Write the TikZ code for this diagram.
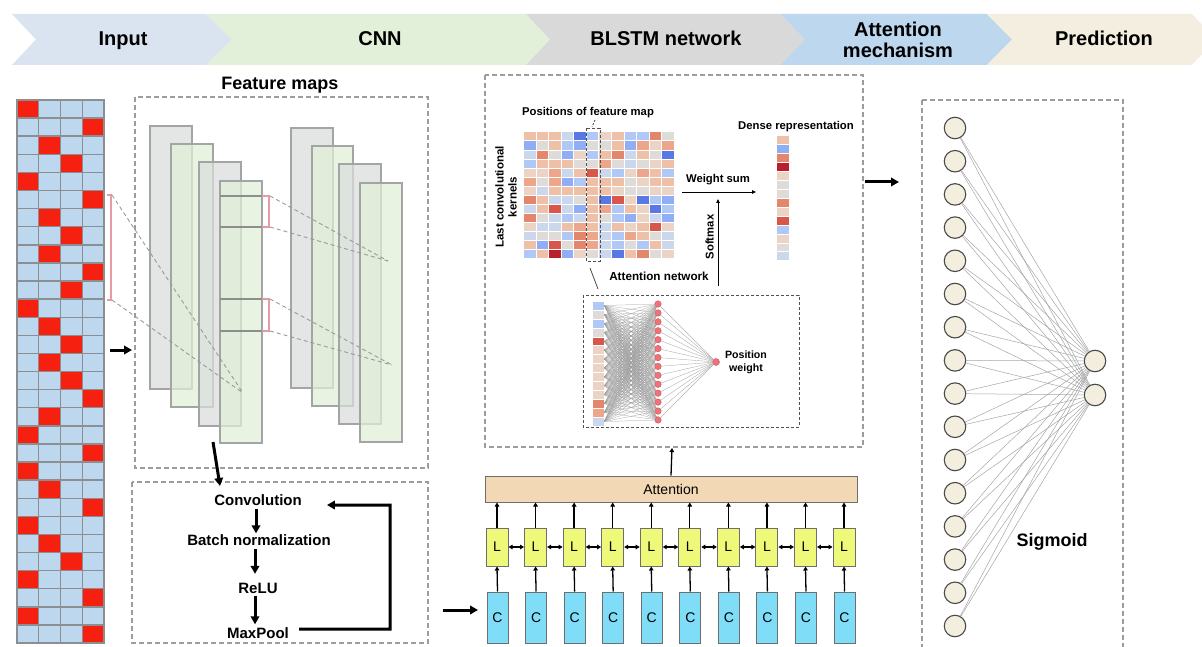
\documentclass[tikz,border=0pt]{standalone}
\usepackage{fontspec}
\setmainfont{Liberation Sans}
\usetikzlibrary{arrows.meta}

\newcommand\pxfont[2]{\fontsize{#1}{#2}\selectfont}

% stage banner
\definecolor{hInput}{HTML}{DAE3F0}
\definecolor{hCNN}{HTML}{E2F0D9}
\definecolor{hBLSTM}{HTML}{D9D9D9}
\definecolor{hAtt}{HTML}{BDD7EE}
\definecolor{hPred}{HTML}{F3EEDF}
% input matrix
\definecolor{cellblue}{HTML}{BDD7EE}
\definecolor{cellred}{HTML}{F52010}
\definecolor{gridline}{HTML}{8C8F91}
% frames and guides
\definecolor{boxdash}{HTML}{9C9C9C}
\definecolor{guidec}{HTML}{9A9A9A}
\definecolor{innerdash}{HTML}{505050}
% feature maps
\definecolor{fmgray}{HTML}{DADDDC}
\definecolor{fmgreen}{HTML}{E0F0D6}
\definecolor{fmedge}{HTML}{A3A5A4}
\definecolor{fmrulec}{HTML}{8E8E8E}
\definecolor{bracketpink}{HTML}{E89AA2}
% BLSTM units
\definecolor{attfill}{HTML}{F2D8B4}
\definecolor{lfill}{HTML}{EEF97A}
\definecolor{cfill}{HTML}{80DDF8}
\definecolor{unitedge}{HTML}{6E6E6E}
% dense layer
\definecolor{neuron}{HTML}{F3EEDD}
\definecolor{neuronedge}{HTML}{4A4A4A}
\definecolor{dotred}{HTML}{EE7279}
\definecolor{dotedge}{HTML}{D0505A}
% coolwarm scale of the kernel heat map
\definecolor{hB3}{HTML}{5A78E4}
\definecolor{hB2}{HTML}{8FAEF5}
\definecolor{hB1}{HTML}{AFC8F5}
\definecolor{hB0}{HTML}{CAD7EC}
\definecolor{hN}{HTML}{DEDBD8}
\definecolor{hT0}{HTML}{EBD3C6}
\definecolor{hT1}{HTML}{EFC0A8}
\definecolor{hT2}{HTML}{EDA68A}
\definecolor{hR1}{HTML}{E4866C}
\definecolor{hR2}{HTML}{D8564A}
\definecolor{hR3}{HTML}{BA1F2E}

\tikzset{
  hdrtext/.style={font=\bfseries\pxfont{20}{21}, align=center, inner sep=0pt},
  dashframe/.style={draw=boxdash, line width=1.3pt, dash pattern=on 5pt off 3pt},
  innerframe/.style={draw=innerdash, line width=0.9pt, dash pattern=on 3pt off 2pt},
  cell/.style={draw=gridline, line width=1.4pt},
  fmsheet/.style={draw=fmedge, line width=1.6pt, fill opacity=0.72},
  fmrule/.style={draw=fmrulec, line width=1.4pt},
  pinkbracket/.style={draw=bracketpink, line width=1.6pt},
  guide/.style={draw=guidec, line width=0.9pt, dash pattern=on 4pt off 3pt},
  bigarrow/.style={line width=3pt, -{Triangle[length=8pt,width=8.5pt]}},
  steplabel/.style={font=\bfseries\pxfont{15}{17}, inner sep=0pt, anchor=base},
  smalllabel/.style={font=\bfseries\pxfont{11.3}{13}, inner sep=0pt},
  thinarrow/.style={line width=0.8pt, -{Triangle[length=4pt,width=3.5pt]}},
  unitarrow/.style={line width=1.3pt, -{Triangle[length=4pt,width=4.5pt]}},
  bothunit/.style={line width=1.3pt, {Triangle[length=4pt,width=4.5pt]}-{Triangle[length=4pt,width=4.5pt]}},
  lunit/.style={draw=unitedge, fill=lfill, line width=1pt, minimum width=22pt, minimum height=38pt, inner sep=0pt, font=\pxfont{14}{16}},
  cunit/.style={draw=unitedge, fill=cfill, line width=1pt, minimum width=21pt, minimum height=51pt, inner sep=0pt, font=\pxfont{14}{16}},
  neuronc/.style={circle, draw=neuronedge, fill=neuron, line width=1.1pt, minimum size=21.5pt, inner sep=0pt},
  attdot/.style={circle, draw=dotedge, fill=dotred, line width=0.4pt, minimum size=6.5pt, inner sep=0pt},
  meshline/.style={draw=black!38, line width=0.25pt},
  fanline/.style={draw=black!30, line width=0.4pt},
  predline/.style={draw=black!35, line width=0.5pt},
  vcell/.style={rectangle, draw=white, line width=0.4pt, inner sep=0pt},
}

\begin{document}
\begin{tikzpicture}[x=1pt, y=-1pt]
\useasboundingbox (0,0) rectangle (1202,647);
\fill[white] (0,0) rectangle (1202,647);

%---------------- stage banner ----------------
\fill[hInput] (12,14) -- (206,14) -- (232,39.5) -- (206,65) -- (12,65) -- (36,39.5) -- cycle;
\fill[hCNN]   (206,14) -- (526,14) -- (550,39.5) -- (526,65) -- (206,65) -- (232,39.5) -- cycle;
\fill[hBLSTM] (526,14) -- (780,14) -- (805,39.5) -- (780,65) -- (526,65) -- (550,39.5) -- cycle;
\fill[hAtt]   (780,14) -- (987,14) -- (1012,39.5) -- (987,65) -- (780,65) -- (805,39.5) -- cycle;
\fill[hPred]  (987,14) -- (1192,14) -- (1216,39.5) -- (1192,65) -- (987,65) -- (1012,39.5) -- cycle;
\node[hdrtext, anchor=base] (tIn)   at (123,46) {Input};
\node[hdrtext, anchor=base] (tCNN)  at (380,46) {CNN};
\node[hdrtext, anchor=base] (tBL)   at (666,46) {BLSTM network};
\node[hdrtext] (tAtt)  at (898,39.5) {Attention\\mechanism};
\node[hdrtext, anchor=base] (tPred) at (1104,46) {Prediction};

%---------------- input matrix ----------------
\foreach \redcol [count=\r] in {1,4,2,3,1,4,2,3,2,4,3,1,2,3,2,3,4,2,1,4,1,2,4,1,2,3,1,4,1,4}{
  \foreach \k in {1,...,4}{
    \ifnum\k=\redcol\def\cellc{cellred}\else\def\cellc{cellblue}\fi
    \filldraw[cell, fill=\cellc] ({17+(\k-1)*21.75},{100+(\r-1)*18.1}) rectangle ++(21.75,18.1);
  }
}
\draw[pinkbracket] (107,195) -- (111,195) -- (111,300) -- (107,300);
\coordinate (gbT) at (112,195);
\coordinate (gbB) at (112,300);
\coordinate (gridOut) at (110,350);
\coordinate (fmIn) at (132,350);
\draw[bigarrow] (gridOut) -- (fmIn);

%---------------- feature maps ----------------
\node[font=\bfseries\pxfont{18}{20}, inner sep=0pt, anchor=base] (fmTitle) at (280,90) {Feature maps};
\draw[dashframe] (135,97) rectangle (428,468);

\filldraw[fmsheet, fill=fmgray]  (150,126) rectangle (192,389);
\filldraw[fmsheet, fill=fmgreen] (171,144) rectangle (213,407);
\filldraw[fmsheet, fill=fmgray]  (199,162) rectangle (241,426);
\filldraw[fmsheet, fill=fmgreen] (220,181) rectangle (262,443);
\filldraw[fmsheet, fill=fmgray]  (291,128) rectangle (333,388);
\filldraw[fmsheet, fill=fmgreen] (312,146) rectangle (353,406);
\filldraw[fmsheet, fill=fmgray]  (339,164) rectangle (381,424);
\filldraw[fmsheet, fill=fmgreen] (360,183) rectangle (402,442);

\draw[fmrule] (220,196) -- (262,196);
\draw[fmrule] (220,227) -- (262,227);
\draw[fmrule] (220,299) -- (262,299);
\draw[fmrule] (220,331) -- (262,331);
\draw[pinkbracket] (262,196) -- (269,196) -- (269,227) -- (262,227);
\draw[pinkbracket] (262,299) -- (269,299) -- (269,331) -- (262,331);

\coordinate (fmFocus) at (243,393);
\coordinate (wAT) at (270,196);
\coordinate (wAB) at (270,227);
\coordinate (wBT) at (270,299);
\coordinate (wBB) at (270,331);
\coordinate (pA) at (388,261);
\coordinate (pB) at (392,365);
\draw[guide] (gbT) -- (fmFocus);
\draw[guide] (gbB) -- (fmFocus);
\draw[guide] (wAT) -- (pA);
\draw[guide] (wAB) -- (pA);
\draw[guide] (wBT) -- (pB);
\draw[guide] (wBB) -- (pB);

%---------------- convolution block ----------------
\draw[dashframe] (132,482) rectangle (428,643);
\node[steplabel] (conv) at (258,505.4) {Convolution};
\node[steplabel] (bn)   at (259,545.4) {Batch normalization};
\node[steplabel] (relu) at (258,593.4) {ReLU};
\node[steplabel] (mp)   at (258,638.4) {MaxPool};
\coordinate (fmOut) at (213,442);
\coordinate (convIn) at (220,486);
\draw[bigarrow] (fmOut) -- (convIn);
\draw[bigarrow] ([xshift=-2pt,yshift=-3pt]conv.south) -- ([xshift=-3pt,yshift=1pt]bn.north);
\draw[bigarrow] ([xshift=-4pt,yshift=-3pt]bn.south) -- ([xshift=-3pt,yshift=9pt]relu.north);
\draw[bigarrow] ([xshift=-3pt,yshift=-2pt]relu.south) -- ([xshift=-3pt,yshift=3pt]mp.north);
\coordinate (loopR) at (390,505);
\draw[bigarrow] ([xshift=10pt,yshift=4pt]mp.east) -| (loopR) -- ([xshift=25pt,yshift=-5pt]conv.east);

\coordinate (cnnOut) at (443,610);
\coordinate (seqIn) at (478,610);
\draw[bigarrow] (cnnOut) -- (seqIn);

%---------------- BLSTM ----------------
\node[draw=unitedge, fill=attfill, line width=1pt, minimum width=372pt, minimum height=26pt, inner sep=0pt] (att) at (671,489) {};
\node[font=\pxfont{14}{16}, inner sep=0pt, anchor=base] (attText) at (671,494) {Attention};
\foreach \i in {1,...,10}{
  \node[lunit] (L\i) at ({497+38.56*(\i-1)},547) {L};
  \node[cunit] (C\i) at ({497.5+38.56*(\i-1)},617.5) {C};
  \draw[unitarrow] (C\i.north) -- (L\i.south);
  \draw[unitarrow] (L\i.north) -- (L\i.north |- att.south);
}
\foreach \i [evaluate=\i as \j using int(\i+1)] in {1,...,9}{
  \draw[bothunit] (L\i.east) -- (L\j.west);
}

%---------------- attention mechanism ----------------
\draw[dashframe] (485,75) rectangle (863,447);
\coordinate (mechIn) at (672,448);
\draw[unitarrow] (att.north) -- (mechIn);

\foreach \rowcols [count=\r] in {
 {hT1,hT1,hT1,hB0,hB3,hB1,hT0,hT1,hB1,hB1,hR1,hN},
 {hB2,hN,hT1,hB1,hB2,hN,hN,hT1,hB2,hT2,hT0,hT2},
 {hB0,hR1,hN,hB2,hT0,hB1,hT1,hR1,hB0,hT1,hN,hB3},
 {hB1,hT1,hT1,hT1,hN,hN,hT2,hN,hB0,hN,hT0,hT1},
 {hT0,hT0,hT2,hB0,hT1,hR2,hB0,hB1,hT0,hT2,hT1,hB1},
 {hT2,hN,hT2,hB2,hB1,hT1,hT1,hT1,hN,hT0,hT1,hT1},
 {hT0,hB0,hT1,hT1,hT1,hT1,hT1,hT0,hN,hN,hT0,hT0},
 {hR1,hT1,hB0,hB0,hN,hT1,hB3,hR2,hT0,hB3,hB1,hB2},
 {hB0,hT1,hR2,hB0,hB2,hT1,hT2,hB1,hT1,hT0,hB3,hB1},
 {hR1,hN,hB0,hB1,hB0,hT1,hN,hB1,hB2,hT0,hB0,hB2},
 {hT0,hB0,hB0,hT1,hT2,hT1,hB0,hT1,hT0,hT1,hR2,hT0},
 {hB0,hN,hN,hB1,hR1,hT2,hB0,hB1,hT2,hT1,hN,hB0},
 {hT1,hB2,hR2,hN,hR1,hT2,hB0,hB1,hN,hB1,hT1,hB0},
 {hB1,hT1,hR3,hB2,hT0,hN,hB0,hB3,hT1,hR1,hN,hT0}}{
  \foreach \cc [count=\k] in \rowcols{
    \filldraw[fill=\cc, draw=white, line width=0.5pt] ({523.3+(\k-1)*12.56},{131.7+(\r-1)*9.05}) rectangle ++(12.56,9.05);
  }
}
\draw[innerframe] (586.7,128.3) rectangle (600,261.7);
\node[smalllabel, anchor=base] (posLab) at (588,116) {Positions of feature map};
\coordinate (posTip) at (592,127);
\coordinate (posFrom) at (595,120);
\draw[innerframe, dash pattern=on 2pt off 1.5pt] (posFrom) -- (posTip);
\node[smalllabel, rotate=90, align=center, font=\bfseries\pxfont{11.5}{13}] (kern) at (506,197) {Last convolutional\\kernels};

\node[smalllabel, anchor=base] (denseLab) at (796,130) {Dense representation};
\foreach \cc [count=\i] in {hT1,hB2,hR1,hR3,hT0,hN,hN,hR1,hT0,hR2,hB1,hT0,hN,hB0}{
  \filldraw[fill=\cc, draw=white, line width=0.5pt] (776.7,{135+(\i-1)*8.98}) rectangle ++(12.6,8.98);
}
\node[smalllabel, anchor=base] (wsLab) at (718,183) {Weight sum};
\coordinate (wsFrom) at (682,192);
\coordinate (wsTo) at (756,192);
\draw[thinarrow] (wsFrom) -- (wsTo);
\node[smalllabel, rotate=90] (smLab) at (709.5,237) {Softmax};
\coordinate (smFrom) at (718,286);
\coordinate (smTo) at (718,199);
\draw[thinarrow] (smFrom) -- (smTo);
\node[smalllabel, anchor=base, font=\bfseries\pxfont{11.7}{13}] (anLab) at (659,280.5) {Attention network};
\coordinate (anA) at (590,268);
\coordinate (anB) at (598,289);
\draw[line width=0.8pt, black!70] (anA) -- (anB);

% attention network
\draw[innerframe] (583,295) rectangle (799,427);
\foreach \cc [count=\i] in {hB1,hN,hB1,hN,hR2,hT0,hT0,hT0,hT0,hT0,hT0,hR1,hT2,hB0}{
  \node[vcell, fill=\cc, minimum width=12pt, minimum height=8.93pt] (v\i) at (598,{301+8.93*(\i-0.5)}) {};
}
\foreach \i in {1,...,14}{
  \node[attdot] (d\i) at (658,{304+8.92*(\i-1)}) {};
}
\node[attdot, minimum size=7pt] (pw) at (716,362) {};
\foreach \i in {1,...,14}{
  \foreach \j in {1,...,14}{
    \draw[meshline] (v\i.east) -- (d\j);
  }
  \draw[fanline] (d\i) -- (pw);
}
\node[font=\bfseries\pxfont{10.6}{13.5}, align=center, inner sep=0pt] (pwLab) at (746,362.5) {Position\\weight};

\coordinate (mechOut) at (865,182);
\coordinate (predIn) at (899,182);
\draw[bigarrow] (mechOut) -- (predIn);

%---------------- prediction ----------------
\draw[dashframe] (922,100) -- (1123,100) -- (1123,647);
\draw[dashframe] (922,100) -- (922,647);
\foreach \i in {1,...,16}{
  \node[neuronc] (n\i) at (955,{128+33.2*(\i-1)}) {};
}
\node[neuronc] (o1) at (1095,361) {};
\node[neuronc] (o2) at (1095,395) {};
\foreach \i in {1,...,16}{
  \draw[predline] (n\i) -- (o1);
  \draw[predline] (n\i) -- (o2);
}
\node[font=\bfseries\pxfont{18}{20}, inner sep=0pt, anchor=base] (sig) at (1052,546) {Sigmoid};
\end{tikzpicture}
\end{document}
